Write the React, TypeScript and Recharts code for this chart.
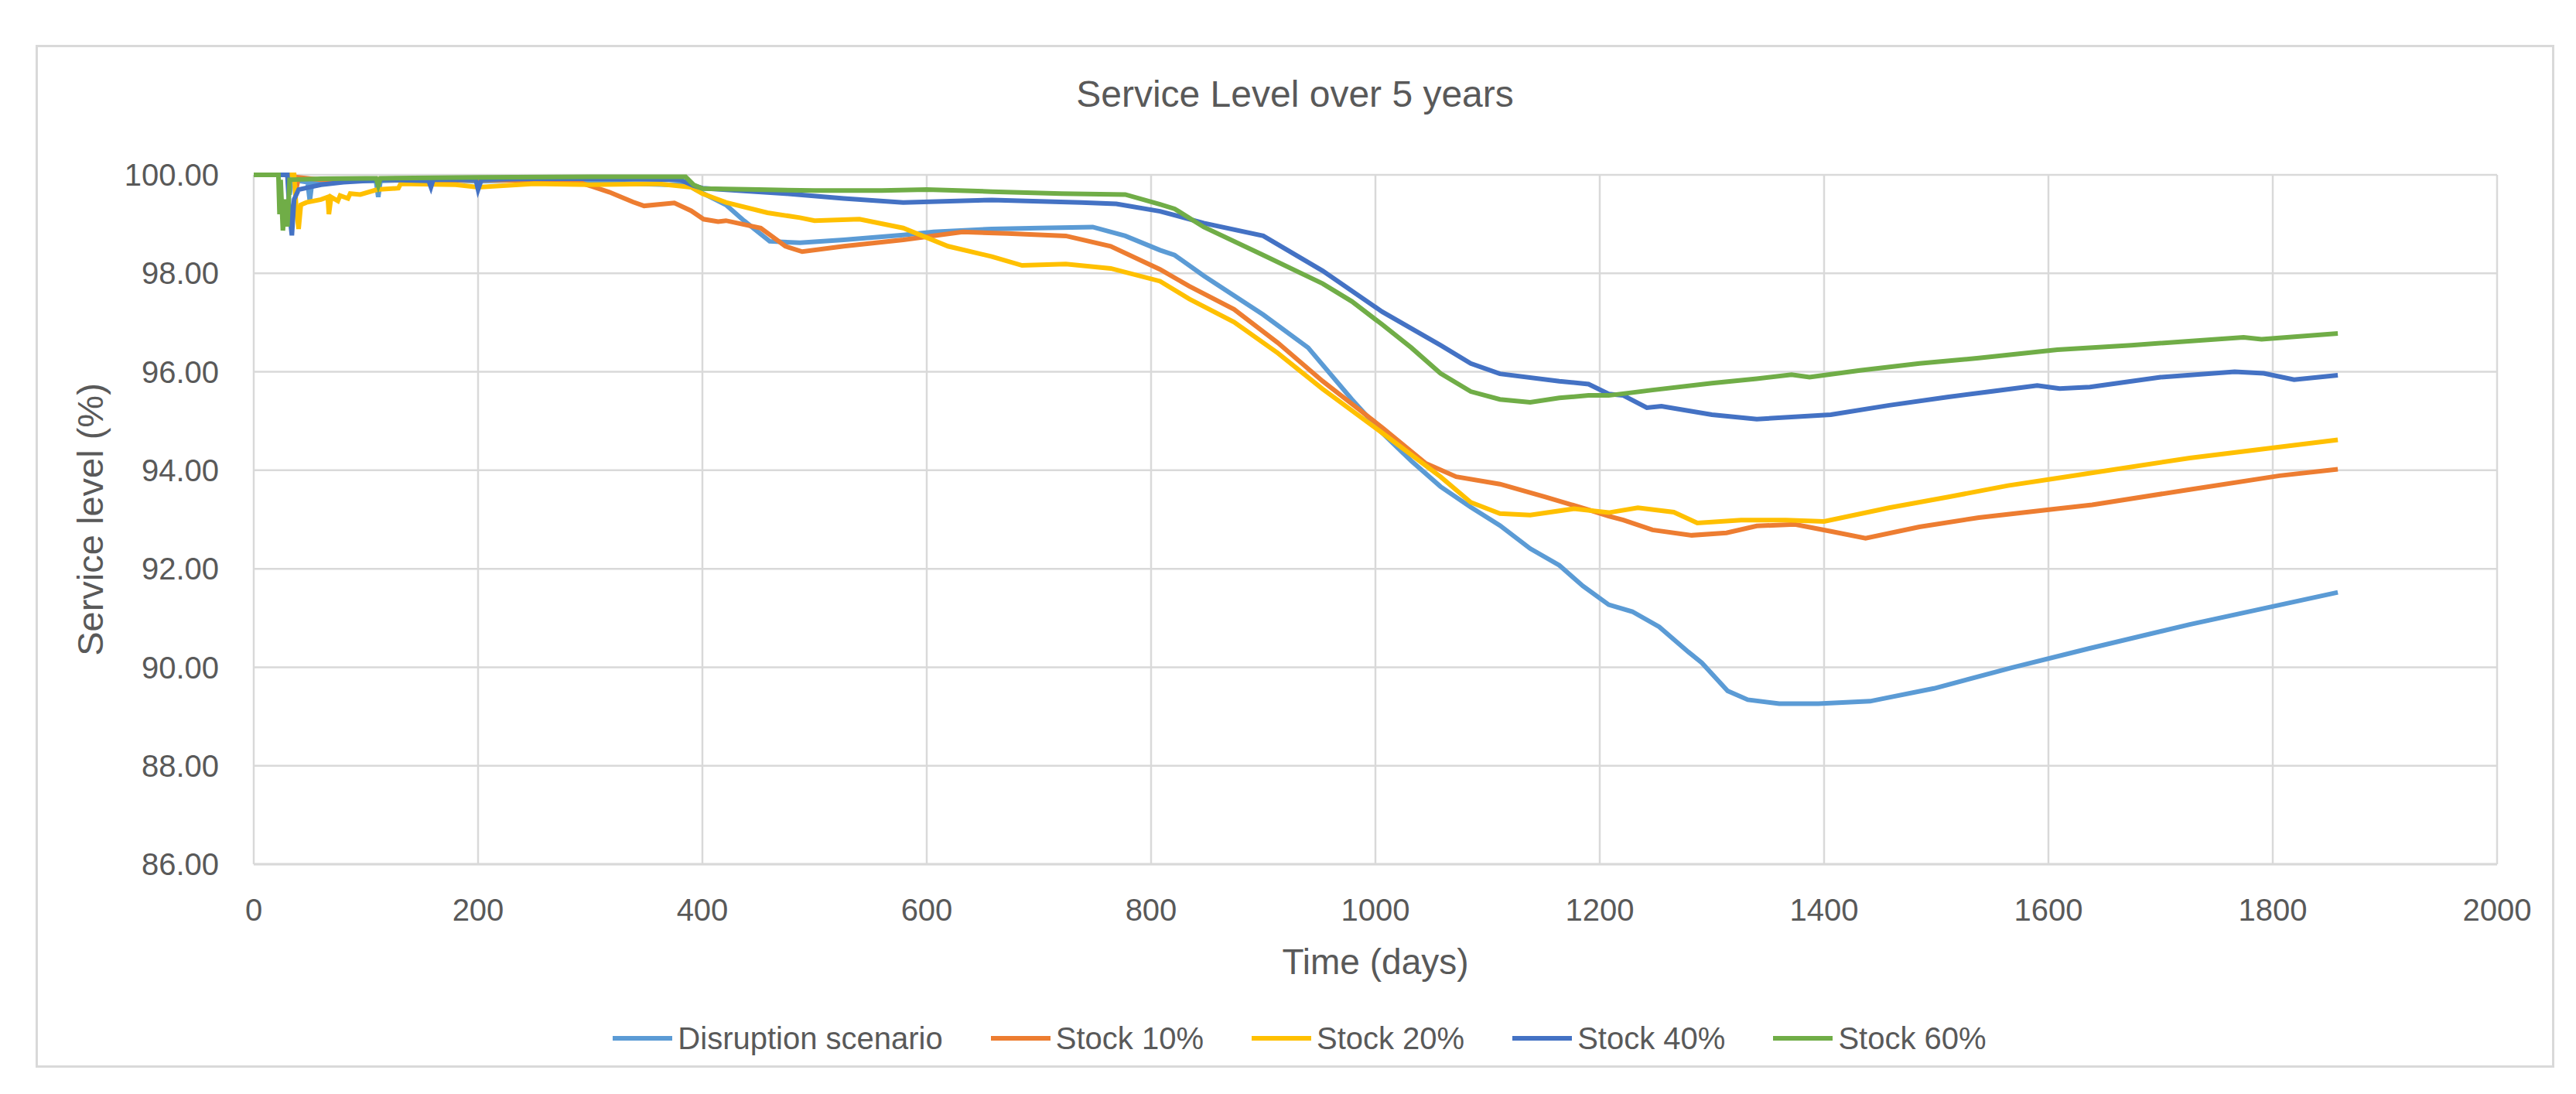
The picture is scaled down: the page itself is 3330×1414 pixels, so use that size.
import { CartesianGrid, Legend, Line, LineChart, XAxis, YAxis } from 'recharts'

type Pt = [number, number]

// [day, service level %]
const disruption: Pt[] = [
  [0, 100], [30, 100], [32, 99.6], [34, 99.9], [48, 99.85], [50, 99.47], [52, 99.85], [80, 99.88],
  [109, 99.88], [111, 99.55], [113, 99.88], [160, 99.9], [200, 99.87], [250, 99.9], [300, 99.85],
  [340, 99.82], [370, 99.8], [385, 99.82], [394, 99.7], [421, 99.39], [437, 99.07], [460, 98.65],
  [487, 98.62], [526, 98.68], [579, 98.78], [606, 98.84], [658, 98.9], [700, 98.92], [748, 98.94],
  [777, 98.76], [808, 98.47], [821, 98.37], [847, 97.95], [900, 97.16], [940, 96.49], [979, 95.44],
  [1006, 94.76], [1032, 94.19], [1058, 93.67], [1085, 93.25], [1111, 92.88], [1138, 92.41],
  [1164, 92.07], [1185, 91.65], [1208, 91.27], [1229, 91.13], [1253, 90.82], [1279, 90.31],
  [1291, 90.09], [1314, 89.52], [1332, 89.34], [1360, 89.26], [1395, 89.26], [1441, 89.31],
  [1452, 89.36], [1498, 89.57], [1567, 89.99], [1636, 90.38], [1726, 90.87], [1858, 91.52],
]

const stock10: Pt[] = [
  [0, 100], [36, 100], [38, 99.72], [40, 99.95], [60, 99.9], [100, 99.92], [150, 99.88], [200, 99.9],
  [250, 99.88], [290, 99.85], [317, 99.65], [338, 99.45], [348, 99.37], [375, 99.43], [390, 99.27],
  [401, 99.1], [414, 99.05], [421, 99.07], [452, 98.92], [474, 98.55], [489, 98.44], [526, 98.55],
  [579, 98.68], [632, 98.84], [672, 98.81], [724, 98.76], [764, 98.55], [808, 98.08], [834, 97.74],
  [874, 97.27], [913, 96.59], [953, 95.81], [1006, 94.87], [1045, 94.14], [1072, 93.87], [1111, 93.72],
  [1151, 93.46], [1190, 93.2], [1208, 93.07], [1221, 92.99], [1247, 92.79], [1282, 92.68],
  [1313, 92.73], [1340, 92.87], [1374, 92.9], [1406, 92.76], [1437, 92.62], [1485, 92.85],
  [1538, 93.04], [1608, 93.22], [1639, 93.3], [1726, 93.61], [1806, 93.89], [1858, 94.02],
]

const stock20: Pt[] = [
  [0, 100], [36, 100], [38, 99.3], [40, 98.9], [42, 99.39], [47, 99.44], [60, 99.5], [66, 99.55],
  [67, 99.2], [69, 99.55], [75, 99.47], [77, 99.58], [84, 99.52], [86, 99.62], [95, 99.6], [110, 99.7],
  [129, 99.73], [131, 99.82], [180, 99.8], [200, 99.75], [250, 99.82], [300, 99.8], [360, 99.82],
  [390, 99.75], [400, 99.62], [421, 99.44], [458, 99.23], [487, 99.13], [500, 99.07], [540, 99.1],
  [579, 98.92], [619, 98.55], [658, 98.34], [685, 98.16], [724, 98.19], [764, 98.1], [808, 97.84],
  [834, 97.48], [874, 97.01], [913, 96.38], [953, 95.65], [1006, 94.76], [1058, 93.87], [1085, 93.35],
  [1111, 93.12], [1138, 93.09], [1177, 93.22], [1208, 93.14], [1234, 93.24], [1266, 93.15],
  [1287, 92.93], [1326, 92.99], [1366, 92.99], [1400, 92.96], [1458, 93.24], [1511, 93.46],
  [1564, 93.69], [1608, 93.84], [1726, 94.25], [1858, 94.62],
]

const stock40: Pt[] = [
  [0, 100], [30, 100], [32, 99.2], [34, 98.77], [36, 99.5], [40, 99.7], [50, 99.75], [60, 99.8],
  [80, 99.85], [100, 99.88], [120, 99.9], [156, 99.88], [158, 99.75], [160, 99.9], [198, 99.9],
  [200, 99.7], [203, 99.9], [250, 99.92], [300, 99.92], [380, 99.9], [392, 99.78], [400, 99.73],
  [474, 99.62], [526, 99.52], [579, 99.44], [658, 99.49], [738, 99.44], [769, 99.41], [808, 99.26],
  [847, 99.02], [900, 98.76], [953, 98.05], [1006, 97.22], [1058, 96.54], [1085, 96.17], [1111, 95.96],
  [1164, 95.81], [1190, 95.75], [1208, 95.55], [1221, 95.52], [1242, 95.27], [1255, 95.3],
  [1300, 95.13], [1340, 95.04], [1406, 95.13], [1458, 95.32], [1511, 95.49], [1590, 95.72],
  [1610, 95.66], [1637, 95.69], [1700, 95.89], [1766, 96.0], [1792, 95.97], [1819, 95.84], [1858, 95.93],
]

const stock60: Pt[] = [
  [0, 100], [22, 100], [23, 99.2], [24, 99.9], [26, 98.87], [28, 99.5], [30, 98.95], [32, 99.9],
  [60, 99.92], [100, 99.93], [109, 99.93], [111, 99.78], [113, 99.93], [200, 99.95], [300, 99.96],
  [385, 99.96], [392, 99.8], [400, 99.72], [450, 99.7], [500, 99.68], [560, 99.68], [600, 99.7],
  [658, 99.66], [720, 99.62], [777, 99.6], [808, 99.4], [821, 99.31], [847, 98.94], [900, 98.37],
  [953, 97.79], [979, 97.43], [1006, 96.96], [1032, 96.49], [1058, 95.97], [1085, 95.6], [1111, 95.44],
  [1138, 95.38], [1164, 95.47], [1190, 95.52], [1208, 95.52], [1247, 95.63], [1300, 95.77],
  [1340, 95.86], [1371, 95.94], [1387, 95.89], [1432, 96.03], [1485, 96.17], [1538, 96.28],
  [1608, 96.45], [1674, 96.54], [1774, 96.7], [1790, 96.66], [1858, 96.78],
]

const xTicks = [0, 200, 400, 600, 800, 1000, 1200, 1400, 1600, 1800, 2000]
const yTicks = [86, 88, 90, 92, 94, 96, 98, 100]

const series = [
  { name: 'Disruption scenario', points: disruption, color: '#5b9bd5' },
  { name: 'Stock 10%', points: stock10, color: '#ed7d31' },
  { name: 'Stock 20%', points: stock20, color: '#ffc000' },
  { name: 'Stock 40%', points: stock40, color: '#4472c4' },
  { name: 'Stock 60%', points: stock60, color: '#70ad47' },
]

const FONT = '"Liberation Sans", Arial, sans-serif'
const TEXT = '#595959'
const GRID = '#d9d9d9'

function YTitle({ viewBox }: any) {
  const cx = viewBox.x + 70
  const cy = viewBox.y + viewBox.height / 2
  return (
    <text x={cx} y={cy} transform={`rotate(-90 ${cx} ${cy})`} textAnchor="middle" dominantBaseline="central"
      fill={TEXT} fontSize={47} fontFamily={FONT}>
      Service level (%)
    </text>
  )
}

function XTitle({ viewBox }: any) {
  const cx = viewBox.x + viewBox.width / 2
  const cy = viewBox.y + 126
  return (
    <text x={cx} y={cy} textAnchor="middle" dominantBaseline="central" fill={TEXT} fontSize={46} fontFamily={FONT}>
      Time (days)
    </text>
  )
}

function LegendBox() {
  return (
    <div style={{ display: 'flex', justifyContent: 'center', alignItems: 'center', height: 60, paddingLeft: 12,
      fontFamily: FONT, fontSize: 40, color: TEXT }}>
      {series.map((s) => (
        <div key={s.name} style={{ display: 'flex', alignItems: 'center', margin: '0 31px' }}>
          <div style={{ width: 77, height: 6, background: s.color, marginRight: 7 }} />
          <span>{s.name}</span>
        </div>
      ))}
    </div>
  )
}

export default function App() {
  return (
    <div style={{ position: 'absolute', left: 0, top: 0, width: 3330, height: 1414, background: '#fff' }}>
      <div style={{ position: 'absolute', left: 46, top: 58, width: 3256, height: 1322, boxSizing: 'border-box',
        border: `3px solid ${GRID}` }} />
      <div style={{ position: 'absolute', left: 46, top: 98, width: 3256, textAlign: 'center', fontFamily: FONT,
        fontSize: 48, lineHeight: '48px', color: TEXT }}>
        Service Level over 5 years
      </div>
      <div style={{ position: 'absolute', left: 46, top: 58 }}>
        <LineChart width={3256} height={1322} margin={{ top: 168, right: 74, bottom: 8, left: 0 }}>
          <CartesianGrid stroke={GRID} strokeWidth={2.5} />
          <XAxis dataKey="day" type="number" domain={[0, 2000]} ticks={xTicks} interval={0}
            allowDuplicatedCategory={false} height={195} tickSize={0} tickMargin={45}
            axisLine={{ stroke: GRID, strokeWidth: 3 }} tickLine={false}
            tick={{ fill: TEXT, fontSize: 40, fontFamily: FONT }} label={{ content: XTitle }} />
          <YAxis type="number" domain={[86, 100]} ticks={yTicks} interval={0} width={282} tickSize={0}
            tickMargin={45} axisLine={false} tickLine={false} tickFormatter={(v: number) => v.toFixed(2)}
            tick={{ fill: TEXT, fontSize: 40, fontFamily: FONT }} label={{ content: YTitle }} />
          <Legend verticalAlign="bottom" content={LegendBox} wrapperStyle={{ left: 0, width: 3256 }} />
          {series.map((s) => (
            <Line key={s.name} data={s.points.map(([day, v]) => ({ day, v }))} dataKey="v" name={s.name}
              type="linear" stroke={s.color} strokeWidth={6} dot={false} isAnimationActive={false} />
          ))}
        </LineChart>
      </div>
    </div>
  )
}
